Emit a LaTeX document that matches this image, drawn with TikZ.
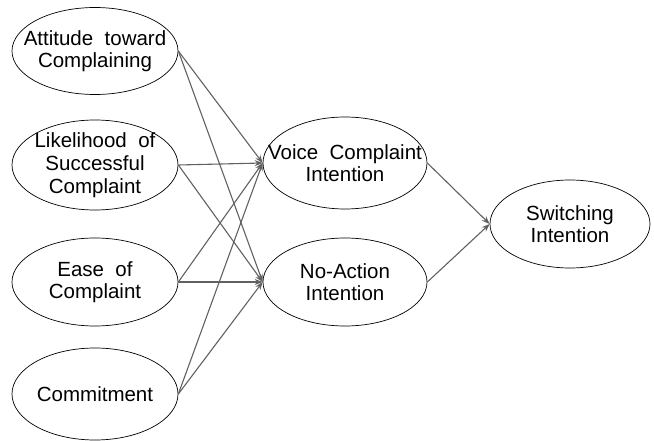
\documentclass[tikz,border=0pt]{standalone}
\usepackage{fontspec}
\setmainfont{Liberation Sans}
\usetikzlibrary{arrows.meta,shapes.geometric}
\begin{document}
\begin{tikzpicture}[x=1pt,y=-1pt,
  ell/.style={draw=black,line width=0.7pt,shape=ellipse,inner sep=0pt},
  lbl/.style={font=\fontsize{20.5}{22}\selectfont,align=center,inner sep=0pt},
  conn/.style={draw=black!62,line width=1.1pt,-{Stealth[length=8pt,width=6pt]}}]
\useasboundingbox (0,0) rectangle (654,441);
\node[ell,minimum width=166pt,minimum height=87pt] (att) at (95,51) {};
\node[lbl] (attT) at (att.center) {Attitude\ \ toward\\Complaining};
\node[ell,minimum width=166pt,minimum height=90pt] (lik) at (95,165) {};
\node[lbl,font=\fontsize{20.5}{23}\selectfont] (likT) at (lik.center) {Likelihood\ \ of\\Successful\\Complaint};
\node[ell,minimum width=166pt,minimum height=88pt] (ease) at (95,282) {};
\node[lbl] (easeT) at (ease.center) {Ease\ \ of\\Complaint};
\node[ell,minimum width=166pt,minimum height=92pt] (com) at (95,394) {};
\node[lbl] (comT) at (com.center) {Commitment};
\node[ell,minimum width=164pt,minimum height=92pt] (voice) at (345,163) {};
\node[lbl] (voiceT) at (voice.center) {Voice\ \ Complaint\\Intention};
\node[ell,minimum width=164pt,minimum height=88pt] (noact) at (345,282) {};
\node[lbl] (noactT) at (noact.center) {No-Action\\Intention};
\node[ell,minimum width=160pt,minimum height=88pt] (sw) at (570,224) {};
\node[lbl] (swT) at (sw.center) {Switching\\Intention};
\foreach \s in {att,lik,ease,com}{
  \draw[conn] (\s.east) -- (voice.west);
  \draw[conn] (\s.east) -- (noact.west);
}
\draw[conn] (voice.east) -- (sw.west);
\draw[conn] (noact.east) -- (sw.west);
\end{tikzpicture}
\end{document}
